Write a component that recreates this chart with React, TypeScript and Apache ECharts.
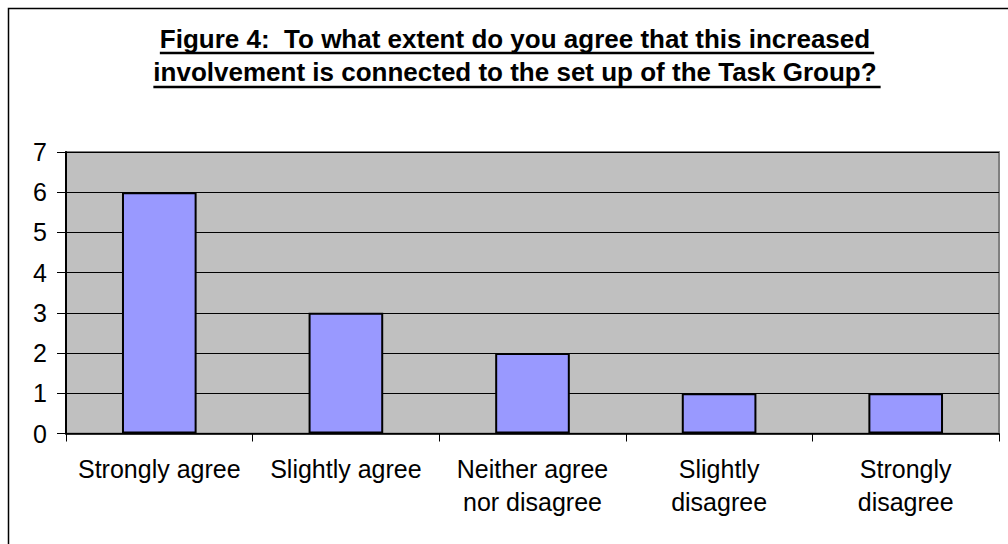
import React, { useEffect, useRef } from "react";
import * as echarts from "echarts";

const categories: string[] = [
  "Strongly agree",
  "Slightly agree",
  "Neither agree\nnor disagree",
  "Slightly\ndisagree",
  "Strongly\ndisagree",
];
const responses: number[] = [6, 3, 2, 1, 1];
const titleLines: string[] = [
  "Figure 4:  To what extent do you agree that this increased",
  "involvement is connected to the set up of the Task Group?",
];
const yMin = 0;
const yMax = 7;
const yInterval = 1;

const FONT = "'Liberation Sans', Arial, Helvetica, sans-serif";

function measure(text: string, font: string): number {
  const c = document.createElement("canvas");
  const ctx = c.getContext("2d");
  if (!ctx) return text.length * 12;
  ctx.font = font;
  return ctx.measureText(text).width;
}

export default function App() {
  const ref = useRef<HTMLDivElement>(null);

  useEffect(() => {
    if (!ref.current) return;
    const chart = echarts.init(ref.current, null, { renderer: "svg" });
    const titleSize = 26;
    const cx = 515;
    const lineYs = [38.5, 72];
    const ulYs = [53, 87];
    const graphics: any[] = [
      {
        type: "rect",
        shape: { x: 8.5, y: 8.5, width: 1010, height: 550 },
        style: { fill: "none", stroke: "#000", lineWidth: 1.5 },
        z: 0,
        silent: true,
      },
    ];
    titleLines.forEach((t, i) => {
      const w = measure(t, `bold ${titleSize}px ${FONT}`);
      graphics.push({
        type: "text",
        x: cx,
        y: lineYs[i],
        style: {
          text: t,
          font: `bold ${titleSize}px ${FONT}`,
          fill: "#000",
          align: "center",
          verticalAlign: "middle",
        },
        z: 10,
      });
      graphics.push({
        type: "line",
        shape: { x1: cx - w / 2, y1: ulYs[i], x2: cx + w / 2 + 4, y2: ulYs[i] },
        style: { stroke: "#000", lineWidth: 2.5 },
        z: 10,
      });
    });

    chart.setOption({
      animation: false,
      backgroundColor: "#fff",
      grid: {
        left: 66,
        right: 9,
        top: 152,
        bottom: 110.5,
        show: true,
        backgroundColor: "#C0C0C0",
        borderColor: "#808080",
        borderWidth: 2,
        containLabel: false,
      },
      xAxis: {
        type: "category",
        data: categories,
        boundaryGap: true,
        axisLine: { show: true, lineStyle: { color: "#000", width: 1.5 } },
        axisTick: {
          show: true,
          alignWithLabel: false,
          length: 8,
          lineStyle: { color: "#000", width: 1 },
        },
        axisLabel: {
          color: "#000",
          fontFamily: FONT,
          fontSize: 25,
          lineHeight: 33,
          margin: 19,
          interval: 0,
        },
        splitLine: { show: false },
      },
      yAxis: {
        type: "value",
        min: yMin,
        max: yMax,
        interval: yInterval,
        axisLine: { show: true, lineStyle: { color: "#000", width: 2 } },
        axisTick: { show: true, length: 9, lineStyle: { color: "#000", width: 1 } },
        axisLabel: {
          color: "#000",
          fontFamily: FONT,
          fontSize: 25,
          margin: 19,
        },
        splitLine: { show: true, lineStyle: { color: "#000", width: 1 } },
      },
      series: [
        {
          type: "bar",
          data: responses,
          barCategoryGap: "60%",
          itemStyle: { color: "#9999FF", borderColor: "#000", borderWidth: 2 },
          z: 3,
        },
      ],
      graphic: graphics,
    });

    return () => {
      chart.dispose();
    };
  }, []);

  return (
    <div
      ref={ref}
      style={{ position: "fixed", left: 0, top: 0, width: 1008, height: 544 }}
    />
  );
}
